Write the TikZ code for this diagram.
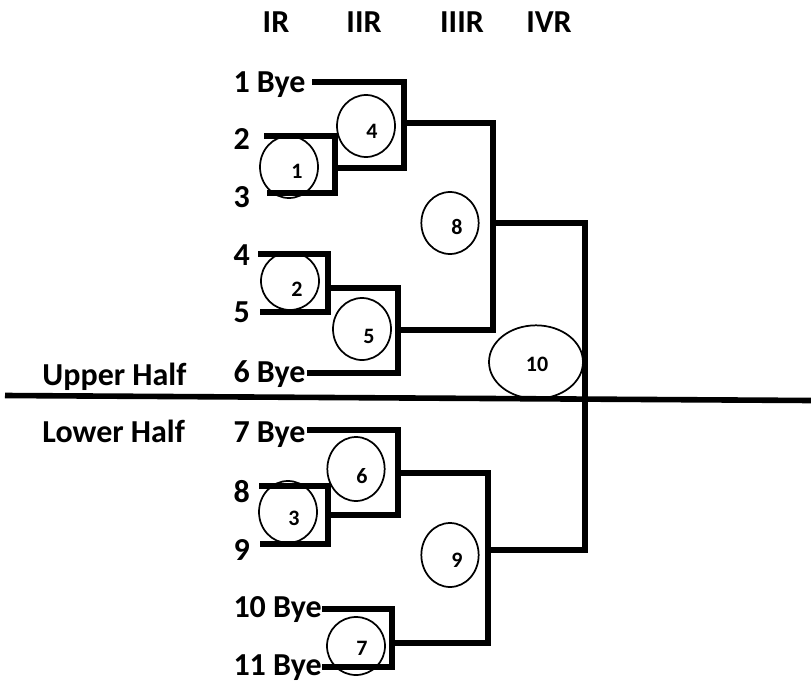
\documentclass[tikz,border=0pt]{standalone}
\usepackage{fontspec}
\setmainfont{Carlito}
\usetikzlibrary{shapes.geometric}

\tikzset{every picture/.style={line width=0.75pt}}
\tikzset{
  bar/.style={line width=4.2pt},
  entry/.style={anchor=base west, inner sep=0pt, font=\fontsize{24}{28}\selectfont\bfseries},
  head/.style={anchor=base, inner sep=0pt, font=\fontsize{24}{28}\selectfont\bfseries},
  match/.style={draw, ellipse, line width=1.3pt, inner sep=0pt},
  num/.style={inner sep=0pt, font=\fontsize{16.5}{19}\selectfont\bfseries}
}

\begin{document}
\begin{tikzpicture}[x=0.75pt,y=0.75pt,yscale=-1,xscale=1]
	\useasboundingbox (0,0) rectangle (811,682);

	% Text Node
	\node[head] (hI) at (276,32) {IR};
	\node[head] (hII) at (364,32) {IIR};
	\node[head] (hIII) at (462,32) {IIIR};
	\node[head] (hIV) at (549,32) {IVR};

	% Text Node
	\node[entry] (p1) at (233,92) {1 Bye};
	\node[entry] (p2) at (233,149) {2};
	\node[entry] (p3) at (233,207) {3};
	\node[entry] (p4) at (233,265) {4};
	\node[entry] (p5) at (233,322) {5};
	\node[entry] (p6) at (233,382) {6 Bye};
	\node[entry] (p7) at (233,442) {7 Bye};
	\node[entry] (p8) at (233,502) {8};
	\node[entry] (p9) at (233,560) {9};
	\node[entry] (p10) at (233,617) {10 Bye};
	\node[entry] (p11) at (233,675) {11 Bye};
	\node[entry] (up) at (42,385) {Upper Half};
	\node[entry] (low) at (42,442) {Lower Half};

	%Shape: Ellipse
	\node[match, minimum width=43.5pt, minimum height=46.5pt] (m1) at (289,167) {};
	\node[match, minimum width=43.5pt, minimum height=43.5pt] (m2) at (290,281) {};
	\node[match, minimum width=43.5pt, minimum height=46.5pt] (m3) at (288,512) {};
	\node[match, minimum width=43.5pt, minimum height=46.5pt] (m4) at (366,126) {};
	\node[match, minimum width=43.5pt, minimum height=46.5pt] (m5) at (362,329) {};
	\node[match, minimum width=43pt, minimum height=48pt] (m6) at (356,469) {};
	\node[match, minimum width=43.5pt, minimum height=43.5pt] (m7) at (356,646) {};
	\node[match, minimum width=43pt, minimum height=46.5pt] (m8) at (450,223) {};
	\node[match, minimum width=43pt, minimum height=48pt] (m9) at (450,555) {};
	\node[match, minimum width=70.5pt, minimum height=55pt] (m10) at (536,362) {};

	% Text Node
	\node[num] (n1) at (297,171) {1};
	\node[num] (n2) at (297,289) {2};
	\node[num] (n3) at (294,518) {3};
	\node[num] (n4) at (372,131) {4};
	\node[num] (n5) at (369,336) {5};
	\node[num] (n6) at (362,476) {6};
	\node[num] (n7) at (362,648) {7};
	\node[num] (n8) at (457,227) {8};
	\node[num] (n9) at (457,560) {9};
	\node[num] (n10) at (537,364) {10};

	% line ends
	\coordinate (a1) at (312,82);
	\coordinate (a2) at (264,136);
	\coordinate (a3) at (267,193);
	\coordinate (a4) at (258,254);
	\coordinate (a5) at (260,312);
	\coordinate (a6) at (307,373);
	\coordinate (a7) at (307,430);
	\coordinate (a8) at (259,486);
	\coordinate (a9) at (260,544);
	\coordinate (a10) at (322,609);
	\coordinate (a11) at (322,667);
	% winners
	\coordinate (w1) at (335,168);
	\coordinate (w2) at (328,288);
	\coordinate (w3) at (328,515);
	\coordinate (w4) at (404,123);
	\coordinate (w5) at (398,330);
	\coordinate (w6) at (398,473);
	\coordinate (w7) at (392,643);
	\coordinate (w8) at (493,223);
	\coordinate (w9) at (488,550);
	\coordinate (w10) at (585,397);

	%Straight Lines
	\draw[bar] (a2) -| (w1) |- (a3);
	\draw[bar] (a4) -| (w2) |- (a5);
	\draw[bar] (a8) -| (w3) |- (a9);
	\draw[bar] (a1) -| (w4) |- (w1);
	\draw[bar] (w2) -| (w5) |- (a6);
	\draw[bar] (a7) -| (w6) |- (w3);
	\draw[bar] (a10) -| (w7) |- (a11);
	\draw[bar] (w4) -| (w8) |- (w5);
	\draw[bar] (w6) -| (w9) |- (w7);
	\draw[bar] (w8) -| (w10) |- (w9);

	% divider
	\coordinate (dl) at (5,395.5);
	\coordinate (dr) at (811,400.5);
	\draw[bar] (dl) -- (dr);

\end{tikzpicture}
\end{document}
